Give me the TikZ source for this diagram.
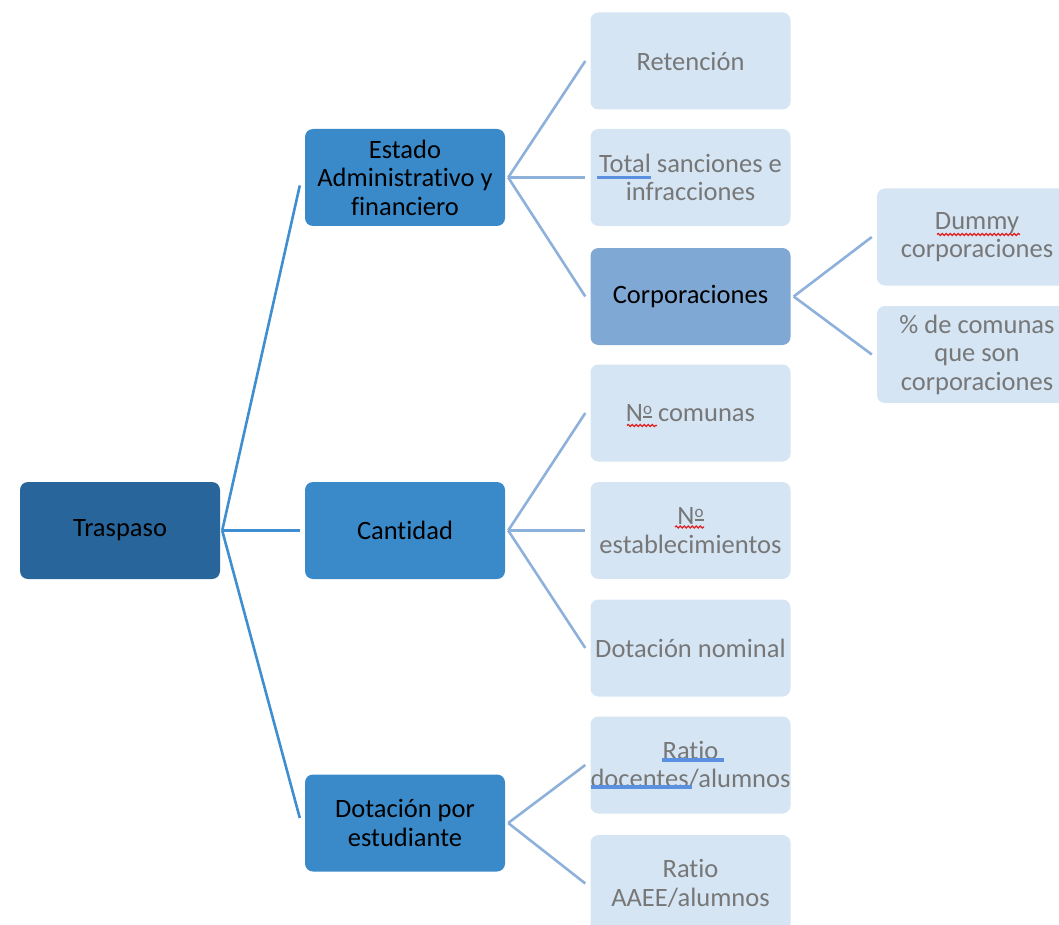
\documentclass[tikz,border=0pt]{standalone}
\usepackage{fontspec}
\setmainfont{Carlito}[Ligatures=NoCommon]
\usetikzlibrary{decorations.pathmorphing}
\definecolor{cRoot}{HTML}{27659A}
\definecolor{cMid}{HTML}{3A8ACA}
\definecolor{cCorp}{HTML}{7FA8D5}
\definecolor{cLight}{HTML}{D5E5F4}
\definecolor{cGrayText}{HTML}{777777}
\definecolor{cLineA}{HTML}{3F8ED0}
\definecolor{cLineB}{HTML}{8EB1DC}
\definecolor{cSpellBlue}{HTML}{5B8FE0}
\definecolor{cSpellRed}{HTML}{E02020}
\newcommand{\ordmark}{\raisebox{7pt}{\fontsize{17}{17}\selectfont o}\kern-9pt\raisebox{3.5pt}{\rule{9pt}{1.8pt}}}
\tikzset{
  boxbase/.style={rectangle, rounded corners=8pt, minimum width=200pt, minimum height=97pt,
    align=center, inner xsep=0pt, inner ysep=2pt, font=\fontsize{26.5}{28.5}\selectfont},
  rootbox/.style={boxbase, fill=cRoot, text=black},
  midbox/.style={boxbase, fill=cMid, text=black},
  corpbox/.style={boxbase, fill=cCorp, text=black},
  leafbox/.style={boxbase, fill=cLight, text=cGrayText},
  linkA/.style={draw=cLineA, line width=2.6pt},
  linkB/.style={draw=cLineB, line width=2.6pt},
  spellblue/.style={draw=cSpellBlue, line width=3.5pt},
  spellred/.style={draw=cSpellRed, line width=1.2pt, decorate, decoration={snake, amplitude=1.1pt, segment length=4pt}}
}
\begin{document}
\begin{tikzpicture}[x=1pt,y=-1pt]
\useasboundingbox (0,0) rectangle (1059,925);
% level 1
\node[rootbox] (tras) at (120,530.5) {Traspaso};
% level 2
\node[midbox] (estado) at (405,177.5) {Estado\\Administrativo y\\financiero};
\node[midbox] (cant) at (405,530.5) {Cantidad};
\node[midbox] (dotest) at (405,823) {Dotación por\\estudiante};
% level 3
\node[leafbox] (ret) at (690.5,61) {Retención};
\node[leafbox] (total) at (690.5,177.5) {Total sanciones e\\infracciones};
\node[corpbox] (corp) at (690.5,296.5) {Corporaciones};
\node[leafbox] (ncom) at (690.5,413) {N\ordmark{} comunas};
\node[leafbox] (nest) at (690.5,530.5) {N\ordmark\\establecimientos};
\node[leafbox] (dotnom) at (690.5,648) {Dotación nominal};
\node[leafbox] (rdoc) at (690.5,765) {Ratio\\docentes/alumnos};
\node[leafbox] (raaee) at (690.5,883.5) {Ratio\\AAEE/alumnos};
% level 4
\node[leafbox] (dummy) at (977,237) {Dummy\\corporaciones};
\node[leafbox] (pct) at (977,354.5) {\% de comunas\\que son\\corporaciones};
% connectors
\draw[linkA] ([xshift=2pt]tras.east) -- ([xshift=-5pt,yshift=-8pt]estado.west);
\draw[linkA] ([xshift=2pt]tras.east) -- ([xshift=-5pt]cant.west);
\draw[linkA] ([xshift=2pt]tras.east) -- ([xshift=-5pt,yshift=5pt]dotest.west);
\draw[linkB] ([xshift=3pt]estado.east) -- ([xshift=-5pt]ret.west);
\draw[linkB] ([xshift=3pt]estado.east) -- ([xshift=-5pt]total.west);
\draw[linkB] ([xshift=3pt]estado.east) -- ([xshift=-5pt]corp.west);
\draw[linkB] ([xshift=3pt]cant.east) -- ([xshift=-5pt]ncom.west);
\draw[linkB] ([xshift=3pt]cant.east) -- ([xshift=-5pt]nest.west);
\draw[linkB] ([xshift=3pt]cant.east) -- ([xshift=-5pt]dotnom.west);
\draw[linkB] ([xshift=3pt]dotest.east) -- ([xshift=-5pt]rdoc.west);
\draw[linkB] ([xshift=3pt]dotest.east) -- ([xshift=-5pt]raaee.west);
\draw[linkB] ([xshift=3pt]corp.east) -- ([xshift=-5pt]dummy.west);
\draw[linkB] ([xshift=3pt]corp.east) -- ([xshift=-5pt]pct.west);
% spell-check marks
\draw[spellblue] (597,177.5) -- (651,177.5);
\draw[spellblue] (662,760) -- (724,760);
\draw[spellblue] (591,787) -- (692,787);
\draw[spellred] (937,234.5) -- (1020,234.5);
\draw[spellred] (627,425.5) -- (657,425.5);
\draw[spellred] (675,527) -- (704,527);
\end{tikzpicture}
\end{document}
